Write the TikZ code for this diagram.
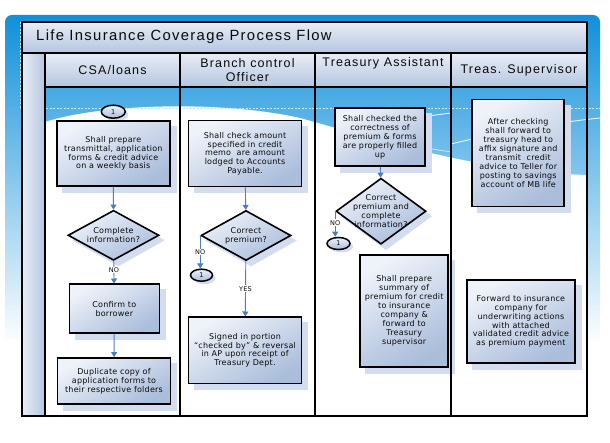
\documentclass[tikz,border=0pt]{standalone}
\usepackage{fontspec}
\setmainfont{Liberation Sans}
\newfontfamily\dvfont[LetterSpace=3]{DejaVu Sans}
\newfontfamily\hdfont[LetterSpace=9]{Liberation Sans}
\usetikzlibrary{arrows.meta,shapes.geometric}
\pgfdeclarelayer{back}
\pgfdeclarelayer{shad}
\pgfsetlayers{back,shad,main}
\definecolor{bgtop}{HTML}{1090DB}
\definecolor{bgmid}{HTML}{5AB6EC}
\definecolor{dashc}{HTML}{C4E6F9}
\definecolor{boxlight}{HTML}{EEF2F9}
\definecolor{boxdark}{HTML}{AABDDB}
\definecolor{shadowc}{HTML}{D3DDEF}
\definecolor{arrowc}{HTML}{4A7EBF}
\definecolor{headlight}{HTML}{E8EDF6}
\definecolor{headdark}{HTML}{B5C6E0}
\definecolor{textc}{HTML}{0A0A0A}
\newcommand\boxfont{\dvfont\fontsize{8}{8.9}\selectfont}
\newcommand\smallfont{\dvfont\fontsize{6.5}{7}\selectfont}
\newcommand\hdsize{\hdfont\fontsize{12.5}{14}\selectfont}
\begin{document}
\begin{tikzpicture}[x=1pt,y=-1pt,
  frameline/.style={draw=black,line width=1.8pt},
  procbox/.style={rectangle,draw=black,line width=1.6pt,top color=boxlight,bottom color=boxdark,shading angle=30,
    inner sep=1pt,align=center,font=\boxfont,text=textc},
  decision/.style={diamond,draw=black,line width=1.6pt,top color=boxlight,bottom color=boxdark,shading angle=30,
    inner sep=0pt},
  dtext/.style={align=center,font=\boxfont,text=textc,inner sep=0pt},
  conn/.style={ellipse,draw=black,line width=1.5pt,top color=boxlight,bottom color=boxdark,inner sep=0pt,
    font=\dvfont\fontsize{6.5}{6.5}\selectfont,text=textc},
  flow/.style={draw=arrowc,line width=0.9pt,-{Triangle[width=6pt,length=5pt]}},
  lbl/.style={fill=white,inner sep=1pt,font=\smallfont,text=textc},
  hd/.style={font=\hdsize,text=textc,align=center,inner sep=0pt},
  headcell/.style={top color=headlight,bottom color=headdark},
  shadowfill/.style={fill=shadowc,draw=none}
]
\useasboundingbox (0,0) rectangle (610,443);
\begin{pgfonlayer}{back}
% background
\shade[rounded corners=7pt,top color=bgtop,middle color=bgmid,bottom color=white] (5,15) rectangle (600,345);
\fill[white] (45,122) .. controls (100,104) and (220,100) .. (300,118)
   .. controls (380,140) and (480,172) .. (587,175) -- (587,416) -- (45,416) -- cycle;
\draw[white,line width=0.9pt,opacity=0.85] (315,130) .. controls (370,124) and (420,117) .. (451,113);
\draw[white,line width=0.9pt,opacity=0.85] (451,144) .. controls (500,132) and (560,122) .. (600,118);
\draw[white,line width=0.7pt,opacity=0.7] (300,122) .. controls (380,142) and (440,150) .. (451,152);
\draw[dashc,dash pattern=on 2pt off 1.5pt,line width=0.6pt] (20,22) -- (20,108) -- (600,108);
% pool header fills
\shade[headcell] (22,22) rectangle (587,53);
\shade[headcell] (45,53) rectangle (587,87);
\shade[left color=headlight,right color=headdark] (22,53) rectangle (45,416);
\end{pgfonlayer}
% pool frame
\draw[frameline] (22,22) rectangle (587,416);
\draw[frameline] (22,53) -- (587,53);
\draw[frameline] (45,87) -- (587,87);
\draw[frameline] (45,53) -- (45,416);
\draw[frameline] (180,53) -- (180,416);
\draw[frameline] (315,53) -- (315,416);
\draw[frameline] (451,53) -- (451,416);
\node[hd,anchor=west,font=\hdfont\fontsize{14.8}{16}\selectfont] (title) at (36,37) {Life Insurance Coverage Process Flow};
\node[hd] (h1) at (112.5,70) {CSA/loans};
\node[hd] (h2) at (247.5,70.5) {Branch control\\Officer};
\node[hd] (h3) at (383,63) {Treasury Assistant};
\node[hd] (h4) at (519,70) {Treas. Supervisor};
% lane 1
\node[conn,minimum width=24pt,minimum height=13pt] (ca) at (113.3,111.7) {1};
\node[procbox,minimum width=113pt,minimum height=65pt] (a1) at (113.3,153.4)
  {Shall prepare\\transmittal, application\\forms \& credit advice\\on a weekly basis};
\node[decision,minimum width=91pt,minimum height=50pt] (da) at (113.5,235.3) {};
\node[dtext] (dat) at (da.center) {Complete\\information?};
\node[procbox,minimum width=90pt,minimum height=49pt] (a2) at (114.3,308.8) {Confirm to\\borrower};
\node[procbox,minimum width=113pt,minimum height=46pt] (a3) at (114,380.9)
  {Duplicate copy of\\application forms to\\their respective folders};
% lane 2
\node[procbox,minimum width=113pt,minimum height=66pt] (b1) at (245,153.7)
  {Shall check amount\\specified in credit\\memo\ \ are amount\\lodged to Accounts\\Payable.};
\node[decision,minimum width=90pt,minimum height=50pt] (db) at (246,235.5) {};
\node[dtext] (dbt) at (db.center) {Correct\\premium?};
\node[conn,minimum width=22pt,minimum height=12pt] (cb) at (201.5,275.2) {1};
\node[procbox,minimum width=113pt,minimum height=66pt] (b2) at (245,350.3)
  {Signed in portion\\“checked by” \& reversal\\in AP upon receipt of\\Treasury Dept.};
% lane 3
\node[procbox,minimum width=90pt,minimum height=58pt] (c1) at (380,137.2)
  {Shall checked the\\correctness of\\premium \& forms\\are properly filled\\up};
\node[decision,minimum width=90pt,minimum height=66pt] (dc) at (381,211.2) {};
\node[dtext] (dct) at (dc.center) {Correct\\premium and\\complete\\information?};
\node[conn,minimum width=23pt,minimum height=12pt] (cc) at (338.5,243.5) {1};
\node[procbox,minimum width=88pt,minimum height=112pt] (c2) at (404.2,310.9)
  {Shall prepare\\summary of\\premium for credit\\to insurance\\company \&\\forward to\\Treasury\\supervisor};
% lane 4
\node[procbox,minimum width=92pt,minimum height=107pt] (d1) at (518.2,153)
  {After checking\\shall forward to\\treasury head to\\affix signature and\\transmit\ \ credit\\advice to Teller for\\posting to savings\\account of MB life};
\node[procbox,minimum width=108pt,minimum height=83pt] (d2) at (520.9,321.4)
  {Forward to insurance\\company for\\underwriting actions\\with attached\\validated credit advice\\as premium payment};
% shadows
\begin{pgfonlayer}{shad}
\foreach \n in {a1,a2,a3,b1,b2,c1,c2,d1,d2}{
  \fill[shadowfill] ([shift={(6pt,-6pt)}]\n.north west) rectangle ([shift={(6pt,-6pt)}]\n.south east);}
\foreach \n in {da,db,dc}{
  \fill[shadowfill] ([shift={(5pt,-5pt)}]\n.north) -- ([shift={(5pt,-5pt)}]\n.east)
    -- ([shift={(5pt,-5pt)}]\n.south) -- ([shift={(5pt,-5pt)}]\n.west) -- cycle;}
\fill[shadowfill] ([shift={(3pt,-3pt)}]ca.center) ellipse [x radius=12pt,y radius=6.5pt];
\fill[shadowfill] ([shift={(3pt,-3pt)}]cb.center) ellipse [x radius=11pt,y radius=6pt];
\fill[shadowfill] ([shift={(3pt,-3pt)}]cc.center) ellipse [x radius=11.5pt,y radius=6pt];
\end{pgfonlayer}
% connectors
\draw[flow] (a1) -- (da);
\draw[flow] (da) -- node[lbl,pos=0.4] (lno1) {NO} (a2);
\draw[flow] (a2) -- (a3);
\draw[flow] (b1) -- (db);
\draw[flow] (db.west) -- node[lbl,pos=0.5] (lno2) {NO} (db.west |- cb.north);
\draw[flow] (db) -- node[lbl,pos=0.5] (lyes) {YES} (b2);
\draw[flow] (c1) -- (dc);
\draw[flow] (dc.west) -- node[lbl,pos=0.45] (lno3) {NO} (dc.west |- cc.north);
\end{tikzpicture}
\end{document}
